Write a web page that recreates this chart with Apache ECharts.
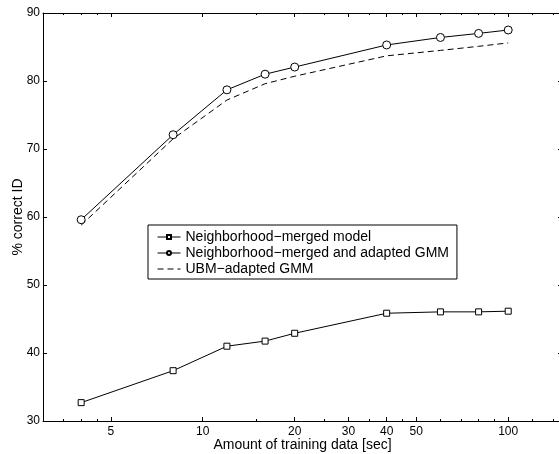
<!DOCTYPE html>
<html><head><meta charset="utf-8">
<script src="https://cdn.jsdelivr.net/npm/echarts@6/dist/echarts.min.js"></script>
<style>html,body{margin:0;padding:0;background:#fff}#c{width:559px;height:454px}</style>
</head><body><div id="c"></div>
<script>
// ---- data ----
const trainingSec = [4, 8, 12, 16, 20, 40, 60, 80, 100];
const mergedModel = [32.7, 37.4, 41.0, 41.75, 42.9, 45.85, 46.05, 46.05, 46.15];
const mergedAdapted = [59.6, 72.1, 78.7, 81.0, 82.05, 85.3, 86.4, 87.0, 87.5];
const ubmAdapted = [58.8, 71.5, 77.2, 79.6, 80.7, 83.7, 84.5, 85.1, 85.6];
const seriesNames = ['Neighborhood\u2212merged model', 'Neighborhood\u2212merged and adapted GMM', 'UBM\u2212adapted GMM'];
const xMajorTicks = [5, 10, 20, 30, 40, 50, 100];
const xMinorTicks = [3.5, 4, 4.5, 15, 25, 35, 45, 60, 70, 80, 90, 120, 140];
const xRange = [3, 150];
const yRange = [30, 90];
const yStep = 10;
const xTitle = 'Amount of training data [sec]';
const yTitle = '% correct ID';

// ---- chart ----
const FONT = '"Liberation Sans", Arial, Helvetica, sans-serif';
const L = Math.log10;
function tickAxis(position, ticks, len, withLabels, withLine) {
  return {
    type: 'value', gridIndex: 0, position: position,
    min: L(xRange[0]), max: L(xRange[1]),
    axisLine: {show: !!withLine, lineStyle: {color: '#000', width: 1}},
    splitLine: {show: false},
    axisTick: {show: true, inside: true, length: len, customValues: ticks.map(L),
               lineStyle: {color: '#000', width: 1}},
    axisLabel: withLabels ? {show: true, customValues: ticks.map(L), margin: 5,
               color: '#000', fontSize: 12, fontFamily: FONT,
               formatter: v => String(Math.round(Math.pow(10, v)))} : {show: false}
  };
}
const pairs = arr => trainingSec.map((x, i) => [x, arr[i]]);
const markerStyle = {color: '#fff', borderColor: '#000', borderWidth: 1};
const chart = echarts.init(document.getElementById('c'), null, {renderer: 'canvas'});
chart.setOption({
  animation: false,
  backgroundColor: '#fff',
  grid: {left: 43, top: 13, width: 519, height: 408, containLabel: false, outerBoundsMode: 'none'},
  xAxis: [
    {type: 'log', logBase: 10, min: xRange[0], max: xRange[1], position: 'bottom',
     axisLine: {show: true, lineStyle: {color: '#000', width: 1}},
     axisTick: {show: false}, axisLabel: {show: false}, splitLine: {show: false}, minorTick: {show: false},
     name: xTitle, nameLocation: 'middle', nameGap: 17, nameMoveOverlap: false,
     nameTextStyle: {color: '#000', fontSize: 14, fontFamily: FONT}},
    tickAxis('bottom', xMajorTicks, 4, true, false),
    tickAxis('bottom', xMinorTicks, 2, false, false),
    tickAxis('top', xMajorTicks, 4, false, true),
    tickAxis('top', xMinorTicks, 2, false, false)
  ],
  yAxis: [
    {type: 'value', min: yRange[0], max: yRange[1], interval: yStep, position: 'left',
     axisLine: {show: true, lineStyle: {color: '#000', width: 1}},
     axisTick: {show: true, inside: true, length: 4, lineStyle: {color: '#000'}},
     axisLabel: {color: '#000', fontSize: 12, fontFamily: FONT, margin: 3},
     splitLine: {show: false},
     name: yTitle, nameLocation: 'middle', nameGap: 18, nameMoveOverlap: false,
     nameTextStyle: {color: '#000', fontSize: 14, fontFamily: FONT}},
    {type: 'value', min: yRange[0], max: yRange[1], interval: yStep, position: 'right',
     axisLine: {show: true, lineStyle: {color: '#000', width: 1}},
     axisTick: {show: true, inside: true, length: 4, lineStyle: {color: '#000'}},
     axisLabel: {show: false}, splitLine: {show: false}}
  ],
  legend: {
    orient: 'vertical', left: 148, top: 225, padding: [5, 8, 3, 9], itemGap: 2,
    itemWidth: 23, itemHeight: 5, borderColor: '#000', borderWidth: 1, backgroundColor: '#fff',
    textStyle: {fontSize: 14, color: '#000', fontFamily: FONT},
    lineStyle: {width: 1},
    data: [
      {name: seriesNames[0]},
      {name: seriesNames[1]},
      {name: seriesNames[2], itemStyle: {opacity: 0}}
    ]
  },
  series: [
    {type: 'line', name: seriesNames[0], xAxisIndex: 0, yAxisIndex: 0, data: pairs(mergedModel),
     symbol: 'rect', symbolSize: 6, lineStyle: {color: '#000', width: 1},
     itemStyle: markerStyle},
    {type: 'line', name: seriesNames[1], xAxisIndex: 0, yAxisIndex: 0, data: pairs(mergedAdapted),
     symbol: 'circle', symbolSize: 8, lineStyle: {color: '#000', width: 1},
     itemStyle: markerStyle},
    {type: 'line', name: seriesNames[2], xAxisIndex: 0, yAxisIndex: 0, data: pairs(ubmAdapted),
     symbol: 'none', lineStyle: {color: '#000', width: 1, type: [6, 4]},
     itemStyle: {color: '#000'}}
  ]
});
</script></body></html>
